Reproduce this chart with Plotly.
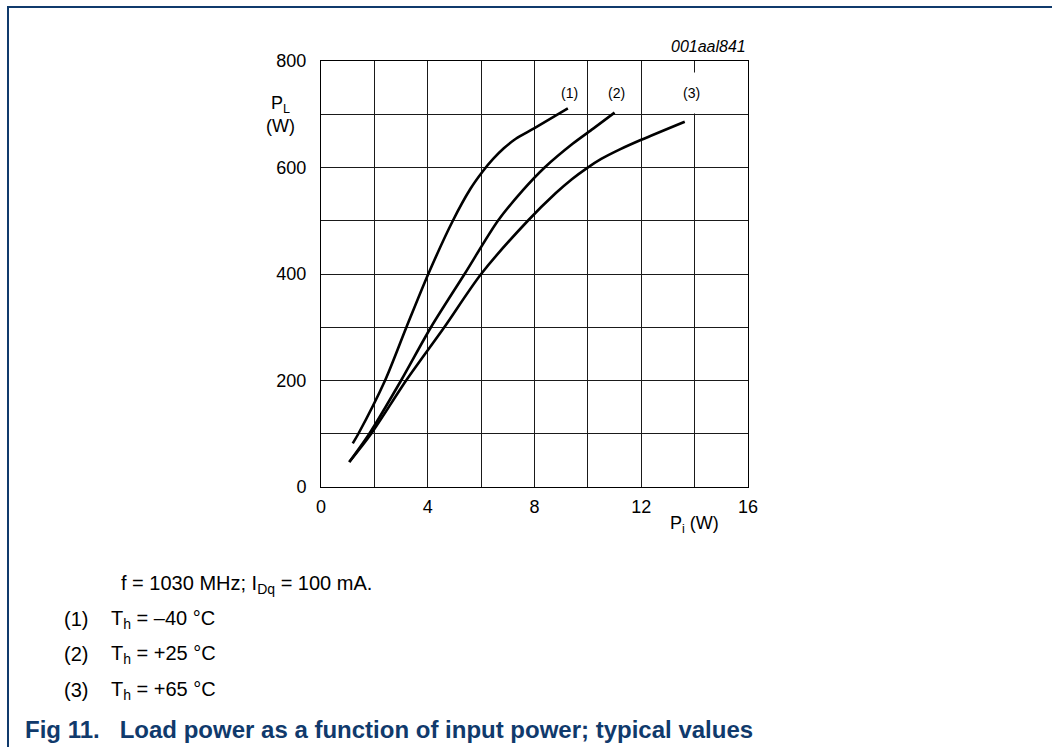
import plotly.graph_objects as go

# Input power Pi (W) and load power PL (W) for three heatsink temperatures
pi_1 = [1.19, 1.4, 2.4, 3.2, 4.02, 4.94, 5.6, 6.05, 6.45, 6.85, 7.3, 8.0, 9.25]
pl_1 = [82, 100, 200, 300, 400, 500, 560, 592, 616, 636, 654, 674, 711]

pi_2 = [1.06, 1.81, 3.0, 4.12, 5.38, 6.63, 7.56, 8.38, 9.44, 10.2, 11.0]
pl_2 = [47, 100, 200, 300, 400, 500, 557, 600, 645, 673, 703]

pi_3 = [1.06, 1.88, 3.19, 4.62, 6.0, 7.75, 8.8, 9.4, 9.94, 10.5, 11.2, 12.0, 13.63]
pl_3 = [47, 100, 200, 300, 400, 500, 552, 578, 598, 616, 634, 652, 686]

curve_labels = ["(1)", "(2)", "(3)"]
label_x = [9.33, 11.07, 13.9]
label_y = [740, 740, 740]

x_ticks = [0, 4, 8, 12, 16]
y_ticks = [0, 200, 400, 600, 800]

FONT = "Arial, Liberation Sans, sans-serif"
BLUE = "#103a6c"
GRID = "#1a1a1a"

L, R, T, B = 321, 748, 61, 487
W, H = 1052, 747


def px(xp):
    return (xp - L) / (R - L)


def py(yp):
    return (B - yp) / (B - T)


fig = go.Figure()
for xs, ys in [(pi_1, pl_1), (pi_2, pl_2), (pi_3, pl_3)]:
    fig.add_trace(go.Scatter(x=xs, y=ys, mode="lines",
                             line=dict(color="black", width=2.6, shape="spline", smoothing=0.8),
                             showlegend=False, hoverinfo="skip"))

for t, xv, yv in zip(curve_labels, label_x, label_y):
    fig.add_annotation(x=xv, y=yv, xref="x", yref="y", text=t, showarrow=False,
                       font=dict(family=FONT, size=14, color="black"),
                       bgcolor="white", borderpad=12 if t == "(3)" else 1)

axis_common = dict(showgrid=True, gridcolor=GRID, gridwidth=1,
                   showline=True, linecolor="black", linewidth=1, mirror=True,
                   zeroline=False, ticks="", tickfont=dict(family=FONT, size=18, color="black"),
                   fixedrange=True)

fig.update_xaxes(range=[0, 16], tickmode="array", tickvals=x_ticks,
                 minor=dict(dtick=2, tick0=0, showgrid=True, gridcolor=GRID, gridwidth=1),
                 ticklabelstandoff=3, **axis_common)
fig.update_yaxes(range=[0, 800], tickmode="array", tickvals=y_ticks,
                 minor=dict(dtick=100, tick0=0, showgrid=True, gridcolor=GRID, gridwidth=1),
                 ticklabelstandoff=10, **axis_common)

txt = dict(family=FONT, size=18, color="black")
fig.add_annotation(x=1.0, y=py(47), xref="paper", yref="paper", text="<i>001aal841</i>",
                   showarrow=False, xanchor="right", yanchor="middle",
                   font=dict(family=FONT, size=16, color="black"))
fig.add_annotation(x=px(280), y=py(114), xref="paper", yref="paper",
                   text="P<sub>L</sub><br>(W)", showarrow=False, xanchor="center", yanchor="middle",
                   font=txt)
fig.add_annotation(x=px(694), y=py(524), xref="paper", yref="paper",
                   text="P<sub>i</sub> (W)", showarrow=False, xanchor="center", yanchor="middle",
                   font=txt)

note = dict(family=FONT, size=20, color="black")
fig.add_annotation(x=px(119), y=py(584), xref="paper", yref="paper",
                   text="f = 1030 MHz; I<sub>Dq</sub> = 100 mA.", showarrow=False,
                   xanchor="left", yanchor="middle", font=note)
conds = ["T<sub>h</sub> = \u201340 \u00b0C", "T<sub>h</sub> = +25 \u00b0C", "T<sub>h</sub> = +65 \u00b0C"]
for i, (lab, c) in enumerate(zip(curve_labels, conds)):
    yy = [619, 654, 690][i]
    fig.add_annotation(x=px(62), y=py(yy), xref="paper", yref="paper", text=lab,
                       showarrow=False, xanchor="left", yanchor="middle", font=note)
    fig.add_annotation(x=px(109), y=py(yy), xref="paper", yref="paper", text=c,
                       showarrow=False, xanchor="left", yanchor="middle", font=note)

fig.add_annotation(x=px(23), y=py(729), xref="paper", yref="paper",
                   text="<b>Fig 11.   Load power as a function of input power; typical values</b>",
                   showarrow=False, xanchor="left", yanchor="middle",
                   font=dict(family=FONT, size=24, color=BLUE))

# page frame (left and top rules)
fig.add_shape(type="line", xref="paper", yref="paper", x0=px(8), x1=px(8), y0=py(7), y1=py(H + 5),
              line=dict(color=BLUE, width=2))
fig.add_shape(type="line", xref="paper", yref="paper", x0=px(7), x1=px(W + 5), y0=py(7), y1=py(7),
              line=dict(color=BLUE, width=2))

fig.update_layout(width=W, height=H, margin=dict(l=L, r=W - R, t=T, b=H - B),
                  plot_bgcolor="white", paper_bgcolor="white", showlegend=False)

fig.write_html("out.html", config={"displayModeBar": False},
               post_script="document.body.style.margin='0';document.body.style.overflow='hidden';")
